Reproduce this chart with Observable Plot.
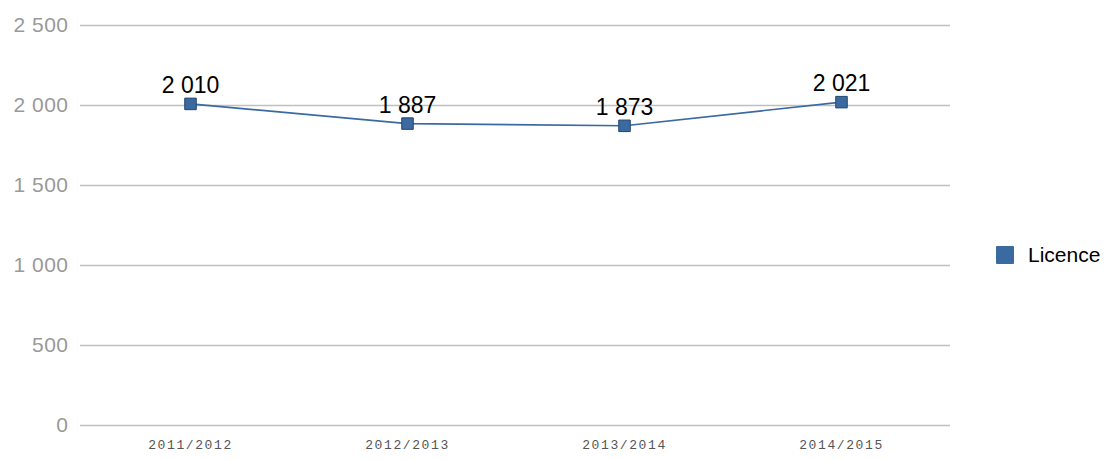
<!DOCTYPE html>
<html>
<head>
<meta charset="utf-8">
<script src="https://cdn.jsdelivr.net/npm/d3@7"></script>
<script src="https://cdn.jsdelivr.net/npm/@observablehq/plot@0.6"></script>
<style>
  html, body { margin: 0; padding: 0; background: #fff; }
  #wrap { position: relative; width: 1104px; height: 461px; }
  #legend { position: absolute; left: 996px; top: 243px; display: flex; align-items: center;
            font-family: "Liberation Sans", Arial, sans-serif; font-size: 21px; color: #000; }
  #legend .sw { width: 18px; height: 18px; background: #3b6aa0; margin-right: 14px; border-radius: 1px; }
  g[aria-label="x-axis tick label"] text { letter-spacing: 1.6px; }
  g[aria-label="y-axis tick label"] text { letter-spacing: 0.5px; }
</style>
</head>
<body>
<div id="wrap">
  <div id="chart"></div>
  <div id="legend"><div class="sw"></div><span id="legend-label"></span></div>
</div>
<script>
const categories = ["2011/2012", "2012/2013", "2013/2014", "2014/2015"];
const seriesName = "Licence";
const values = [2010, 1887, 1873, 2021];
const yTicks = [0, 500, 1000, 1500, 2000, 2500];

const data = categories.map((c, i) => ({ cat: c, value: values[i] }));
const fmt = v => d3.format(",")(v).replace(/,/g, " ");
const color = "#3b6aa0";

document.getElementById("legend-label").textContent = seriesName;

const chart = Plot.plot({
  width: 1104,
  height: 461,
  marginLeft: 80,
  marginRight: 154,
  marginTop: 25,
  marginBottom: 36,
  style: { background: "#fff", fontFamily: "'Liberation Sans', Arial, sans-serif" },
  x: { type: "point", domain: categories, padding: 0.5, label: null },
  y: { domain: [0, 2500], label: null },
  marks: [
    Plot.ruleY(yTicks, { stroke: "#c0c0c0", strokeWidth: 1.5 }),
    Plot.axisY(yTicks, { tickSize: 0, tickPadding: 12, tickFormat: fmt, fontSize: 21, fill: "#999", label: null }),
    Plot.axisX({ tickSize: 0, tickPadding: 14, fontSize: 13, fill: "#555", label: null,
                 fontFamily: "'Liberation Mono', 'DejaVu Sans Mono', monospace" }),
    Plot.line(data, { x: "cat", y: "value", stroke: color, strokeWidth: 1.6 }),
    Plot.dot(data, { x: "cat", y: "value", symbol: "square", r: 6.5, fill: color, stroke: "#23446b", strokeWidth: 1 }),
    Plot.text(data, { x: "cat", y: "value", text: d => fmt(d.value), lineAnchor: "bottom", dy: -11, fontSize: 23, fill: "#000" })
  ]
});
document.getElementById("chart").appendChild(chart);
</script>
</body>
</html>
